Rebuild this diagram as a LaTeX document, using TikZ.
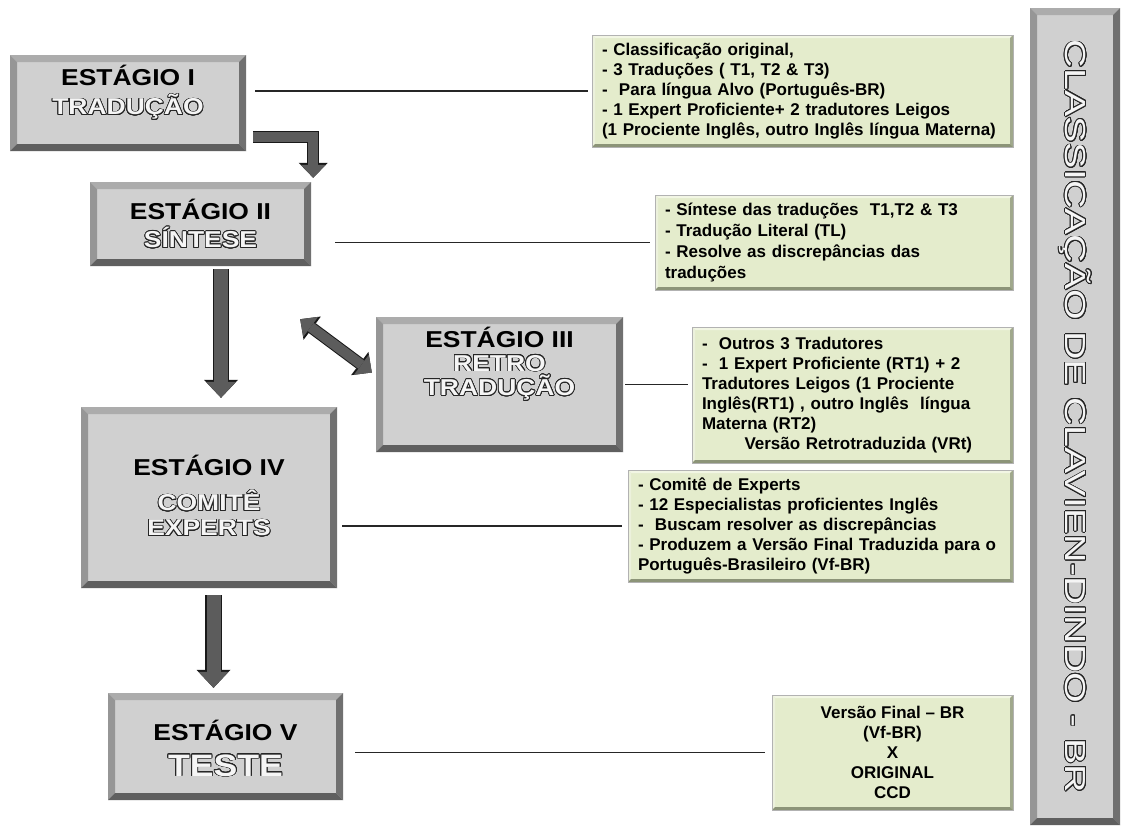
\documentclass[tikz,border=0pt]{standalone}
\usepackage{fontspec}
\setmainfont{Liberation Sans}
\newfontfamily\ttlfont{Liberation Sans}[FakeStretch=1.15]
\newfontfamily\widefont{Liberation Sans}[FakeStretch=1.36]
\usepackage{graphicx}
\usepackage{contour}
\contourlength{0.8pt}
\contournumber{24}
\usetikzlibrary{arrows.meta,calc}
\definecolor{boxgray}{RGB}{208,208,208}
\definecolor{bevtop}{RGB}{172,172,172}
\definecolor{bevleft}{RGB}{150,150,150}
\definecolor{bevright}{RGB}{112,112,112}
\definecolor{bevbot}{RGB}{95,95,95}
\definecolor{notegreen}{RGB}{228,236,204}
\definecolor{ntop}{RGB}{242,246,228}
\definecolor{nleft}{RGB}{236,241,220}
\definecolor{nright}{RGB}{160,168,140}
\definecolor{nbot}{RGB}{140,148,120}
\definecolor{arrgray}{RGB}{92,92,92}
\newcommand\hollow[1]{{\color{gray!8}\contour{black!85}{#1}}}
\newcommand\stagetext[2]{\raisebox{#1}[0pt][0pt]{\begin{tabular}[t]{@{}c@{}}#2\end{tabular}}}
\newcommand\bevelpic[5]{%
  \fill[#2] (path picture bounding box.north west) -- (path picture bounding box.north east)
    -- ([xshift=-#1,yshift=-#1]path picture bounding box.north east)
    -- ([xshift=#1,yshift=-#1]path picture bounding box.north west) -- cycle;
  \fill[#3] (path picture bounding box.north west) -- ([xshift=#1,yshift=-#1]path picture bounding box.north west)
    -- ([xshift=#1,yshift=#1]path picture bounding box.south west) -- (path picture bounding box.south west) -- cycle;
  \fill[#4] (path picture bounding box.north east) -- ([xshift=-#1,yshift=-#1]path picture bounding box.north east)
    -- ([xshift=-#1,yshift=#1]path picture bounding box.south east) -- (path picture bounding box.south east) -- cycle;
  \fill[#5] (path picture bounding box.south west) -- ([xshift=#1,yshift=#1]path picture bounding box.south west)
    -- ([xshift=-#1,yshift=#1]path picture bounding box.south east) -- (path picture bounding box.south east) -- cycle;
}
\tikzset{
  headin/.tip={Triangle[length=13pt,width=25pt,line width=0pt]},
  headout/.tip={Triangle[length=15pt,width=29pt,line width=0pt]},
  bighead/.tip={Triangle[length=16pt,width=30pt,line width=0pt]},
  bigheadout/.tip={Triangle[length=18pt,width=34pt,line width=0pt]}
}
\begin{document}
\begin{tikzpicture}[x=1pt,y=-1pt,
  stage/.style={rectangle, fill=boxgray, inner sep=0pt, align=center, text=black,
    font=\ttlfont\bfseries\fontsize{23}{27}\selectfont,
    path picture={\bevelpic{7pt}{bevtop}{bevleft}{bevright}{bevbot}}},
  note/.style={rectangle, fill=notegreen, draw=gray!60, line width=.5pt, inner xsep=10pt, inner ysep=0pt,
    align=left, font=\fontsize{17}{20}\selectfont\bfseries,
    path picture={\bevelpic{3pt}{ntop}{nleft}{nright}{nbot}}},
  link/.style={draw=black!85, line width=1.1pt},
  bigarr/.style={draw=arrgray, line width=14pt, -bighead,
    preaction={draw=black!90, line width=16.5pt, -bigheadout}},
  smallarr/.style={draw=arrgray, line width=10pt, -headin,
    preaction={draw=black!90, line width=12pt, -headout}},
  dblarr/.style={draw=arrgray, line width=10pt, headin-headin,
    preaction={draw=black!90, line width=12pt, headout-headout}}]
\useasboundingbox[fill=white] (0,0) rectangle (1122,827);

\node[stage, minimum width=236pt, minimum height=96pt] (s1) at (128,103) {\stagetext{17.75pt}{ESTÁGIO I\\[1pt]\hollow{TRADUÇÃO}}};
\node[stage, minimum width=221pt, minimum height=84pt] (s2) at (200.5,224) {\stagetext{4.75pt}{ESTÁGIO II\\[0pt]\hollow{SÍNTESE}}};
\node[stage, minimum width=247pt, minimum height=135pt] (s3) at (499.5,384.5) {\stagetext{37.5pt}{ESTÁGIO III\\[-3pt]\hollow{RETRO}\\[-4pt]\hollow{TRADUÇÃO}}};
\node[stage, minimum width=256pt, minimum height=181pt] (s4) at (209,497.5) {\stagetext{22.25pt}{ESTÁGIO IV\\[7pt]\hollow{COMITÊ}\\[-2pt]\hollow{EXPERTS}}};
\node[stage, minimum width=235pt, minimum height=107pt] (s5) at (225.5,746.5) {\stagetext{6.25pt}{ESTÁGIO V\\[6pt]\hollow{\fontsize{31}{34}\selectfont TESTE}}};
\node[stage, minimum width=90pt, minimum height=817pt] (cl) at (1075,416.5) {\rotatebox{-90}{\widefont\mdseries\fontsize{29}{34}\selectfont\hollow{CLASSICAÇÃO DE CLAVIEN-DINDO - BR}}};

\node[note, minimum width=421pt, minimum height=112pt, text width=401pt] (g1) at (802.5,91) {- Classificação original,\\- 3 Traduções ( T1, T2 \& T3)\\-\ \ Para língua Alvo (Português-BR)\\- 1 Expert Proficiente+ 2 tradutores Leigos\\(1 Prociente Inglês, outro Inglês língua Materna)};
\node[note, minimum width=358pt, minimum height=95pt, text width=338pt, font=\fontsize{17}{21}\selectfont\bfseries] (g2) at (834,242.5) {- Síntese das traduções\ \ T1,T2 \& T3\\- Tradução Literal (TL)\\- Resolve as discrepâncias das\\traduções};
\node[note, minimum width=321pt, minimum height=136pt, text width=301pt] (g3) at (852.5,395) {-\ \ Outros 3 Tradutores\\-\ \ 1 Expert Proficiente (RT1) + 2\\Tradutores Leigos (1 Prociente\\Inglês(RT1) , outro Inglês\ \ língua\\Materna (RT2)\\\hspace*{2.5em}Versão Retrotraduzida (VRt)};
\node[note, minimum width=385pt, minimum height=112pt, text width=365pt] (g4) at (820.5,526) {- Comitê de Experts\\- 12 Especialistas proficientes Inglês\\-\ \ Buscam resolver as discrepâncias\\- Produzem a Versão Final Traduzida para o\\Português-Brasileiro (Vf-BR)};
\node[note, minimum width=241pt, minimum height=115pt, align=center] (g5) at (892.5,752.5) {Versão Final – BR\\(Vf-BR)\\X\\ORIGINAL\\CCD};

\draw[link, shorten <=9pt, shorten >=4pt] (s1.east |- g1.west) -- (g1.west);
\draw[link, shorten <=24pt, shorten >=5pt] (s2.east |- g2.west) -- (g2.west);
\draw[link, shorten <=2pt, shorten >=4pt] (s3.east) -- (s3.east -| g3.west);
\draw[link, shorten <=5pt, shorten >=6pt] (s4.east |- g4.west) -- (g4.west);
\draw[link, shorten <=12pt, shorten >=7pt] (s5.east |- g5.west) -- (g5.west);

\draw[smallarr] ($(s1.south east)+(7,-14)$) -| ($(s2.north east)+(2,-4)$);
\draw[bigarr] ($(s2.south)+(20.5,3)$) -- ($(s4.north)+(12,-9)$);
\draw[dblarr] ($(s2.south east)+(-11,53)$) -- ($(s3.west)+(-4,-12)$);
\draw[bigarr] ($(s4.south)+(4.5,7)$) -- ($(s5.north)+(-12,-5)$);
\end{tikzpicture}
\end{document}
